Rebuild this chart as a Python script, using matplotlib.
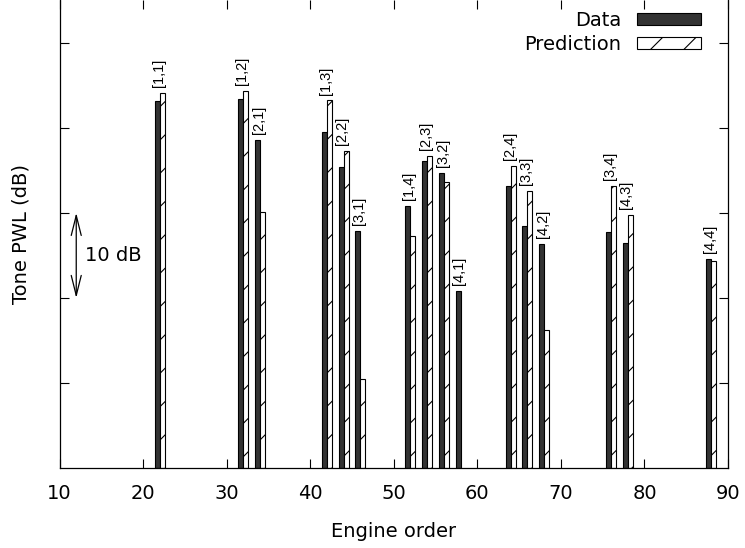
import matplotlib
matplotlib.use("Agg")
import matplotlib.pyplot as plt
import numpy as np

# engine orders of the interaction tones [i,j]
orders = [22, 32, 34, 42, 44, 46, 52, 54, 56, 58, 64, 66, 68, 76, 78, 88]
tones = ["[1,1]", "[1,2]", "[2,1]", "[1,3]", "[2,2]", "[3,1]", "[1,4]", "[2,3]",
         "[3,2]", "[4,1]", "[2,4]", "[3,3]", "[4,2]", "[3,4]", "[4,3]", "[4,4]"]

# tone levels in dB (arbitrary reference, 10 dB per tick)
data = [43.1, 43.4, 38.6, 39.5, 35.4, 27.9, 30.8, 36.1,
        34.7, 20.8, 33.2, 28.5, 26.4, 27.7, 26.5, 24.6]
prediction = [44.1, 44.3, 30.1, 43.2, 37.3, 10.5, 27.3, 36.7,
              33.6, np.nan, 35.5, 32.6, 16.2, 33.2, 29.8, 24.4]

xticks = [10, 20, 30, 40, 50, 60, 70, 80, 90]

plt.rcParams["hatch.linewidth"] = 0.8

fig = plt.figure(figsize=(7.45, 5.48), dpi=100)
ax = fig.add_axes([0.0799, 0.1454, 0.8973, 0.8546])

width = 0.6
x = np.array(orders, dtype=float)
ax.bar(x - width / 2, data, width=width, color="#333333", edgecolor="black",
       linewidth=0.8, label="Data")
ax.bar(x + width / 2, prediction, width=width, color="white", edgecolor="black",
       linewidth=0.8, hatch="/", label="Prediction")

# tone labels above each pair
for xi, d, p, name in zip(x, data, prediction, tones):
    top = np.nanmax([d, p])
    ax.text(xi - 0.15, top + 0.7, name, rotation=90, ha="center", va="bottom",
            fontsize=10.5, family="Liberation Sans")

# 10 dB scale arrow
ax.annotate("", xy=(12, 30), xytext=(12, 20),
            arrowprops=dict(arrowstyle="<->,head_length=0.8,head_width=0.2",
                            mutation_scale=18, color="black", lw=0.9,
                            shrinkA=0, shrinkB=0))
ax.text(13.05, 25, "10 dB", ha="left", va="center", fontsize=14)

ax.set_xlim(10, 90)
ax.set_ylim(0, 55)
ax.set_xticks(xticks)
ax.set_yticks(np.arange(10, 51, 10))
ax.set_yticklabels([])
ax.tick_params(direction="in", length=6.5, width=0.8, labelsize=14,
               top=True, right=True, pad=11)
ax.spines["top"].set_visible(False)
for s in ["left", "right", "bottom"]:
    ax.spines[s].set_linewidth(0.9)

ax.set_xlabel("Engine order", fontsize=14, labelpad=14)
ax.set_ylabel("Tone PWL (dB)", fontsize=14)
ax.yaxis.set_label_coords(-0.044, 0.5)

ax.legend(loc="upper right", bbox_to_anchor=(0.9596, 0.9765), frameon=False,
          markerfirst=False, fontsize=14, handlelength=3.3, handleheight=0.62,
          handletextpad=0.8, labelspacing=0.25, borderpad=0, borderaxespad=0)

plt.savefig("out.png", dpi=100)
